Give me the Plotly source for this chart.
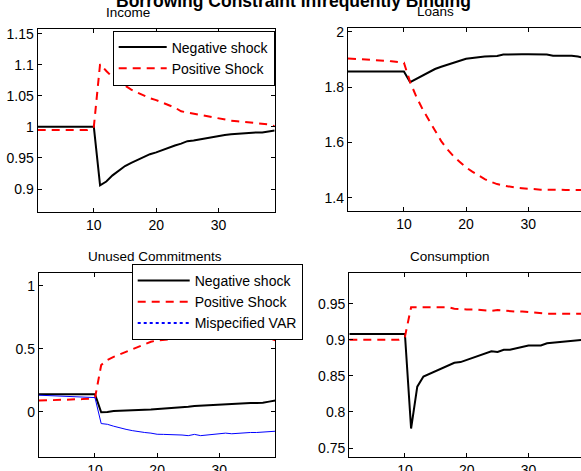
import plotly.graph_objects as go

t = list(range(1, 40))

income_neg = [1.0]*10 + [0.906, 0.912, 0.922, 0.930, 0.937, 0.942, 0.947, 0.952, 0.956, 0.959,
                        0.963, 0.966, 0.970, 0.973, 0.977, 0.978, 0.980, 0.981, 0.983, 0.985,
                        0.987, 0.988, 0.989, 0.990, 0.991, 0.991, 0.991, 0.993, 0.994]
income_pos = [0.995]*9 + [1.0, 1.101, 1.09, 1.08, 1.073, 1.066, 1.06, 1.055, 1.05, 1.046, 1.043,
                          1.039, 1.035, 1.031, 1.025, 1.023, 1.021, 1.019, 1.017, 1.015, 1.013,
                          1.012, 1.010, 1.009, 1.008, 1.008, 1.007, 1.006, 1.004, 1.001]

loans_neg = [1.856]*10 + [1.818, 1.83, 1.843, 1.855, 1.865, 1.873, 1.88, 1.888, 1.893, 1.902,
                         1.905, 1.908, 1.91, 1.911, 1.912, 1.917, 1.918, 1.918, 1.918, 1.918,
                         1.918, 1.918, 1.917, 1.913, 1.913, 1.913, 1.913, 1.91, 1.905]
loans_pos = [1.903, 1.902, 1.901, 1.900, 1.898, 1.897, 1.895, 1.893, 1.891, 1.888,
             1.818, 1.765, 1.72, 1.68, 1.64, 1.605, 1.575, 1.55, 1.53, 1.51,
             1.495, 1.48, 1.468, 1.458, 1.45, 1.445, 1.44, 1.437, 1.435, 1.433,
             1.431, 1.43, 1.43, 1.429, 1.429, 1.429, 1.429, 1.429, 1.429]

unused_neg = [0.139]*10 + [-0.005, -0.003, 0.005, 0.008, 0.01, 0.01, 0.012, 0.015, 0.017, 0.02,
                          0.025, 0.028, 0.032, 0.036, 0.04, 0.045, 0.048, 0.052, 0.056, 0.06,
                          0.062, 0.064, 0.066, 0.068, 0.07, 0.07, 0.072, 0.08, 0.088]
unused_pos = [0.088, 0.089, 0.09, 0.091, 0.093, 0.095, 0.098, 0.1, 0.103, 0.107,
              0.37, 0.41, 0.435, 0.455, 0.475, 0.495, 0.515, 0.535, 0.555, 0.565,
              0.57, 0.575, 0.58, 0.585, 0.588, 0.59, 0.595, 0.597, 0.6, 0.6,
              0.6, 0.598, 0.598, 0.598, 0.597, 0.597, 0.595, 0.585, 0.567]
unused_var = [0.131, 0.129, 0.127, 0.125, 0.123, 0.121, 0.119, 0.117, 0.115, 0.112,
              -0.094, -0.1, -0.115, -0.13, -0.14, -0.15, -0.16, -0.165, -0.17, -0.179,
              -0.18, -0.18, -0.182, -0.185, -0.19, -0.18, -0.19, -0.185, -0.18, -0.175,
              -0.17, -0.175, -0.17, -0.17, -0.165, -0.165, -0.16, -0.155, -0.155]

cons_neg = [0.908]*10 + [0.777, 0.835, 0.849, 0.853, 0.857, 0.86, 0.865, 0.868, 0.869, 0.872,
                        0.875, 0.878, 0.881, 0.884, 0.883, 0.886, 0.886, 0.888, 0.889, 0.892,
                        0.892, 0.892, 0.895, 0.896, 0.897, 0.897, 0.898, 0.899, 0.900]
cons_pos = [0.9]*9 + [0.904, 0.945, 0.945, 0.945, 0.945, 0.945, 0.945, 0.945, 0.943, 0.942, 0.942,
                      0.942, 0.941, 0.940, 0.940, 0.941, 0.940, 0.940, 0.939, 0.939, 0.938,
                      0.937, 0.936, 0.936, 0.936, 0.936, 0.936, 0.936, 0.936, 0.936]

panel_titles = ["Income", "Loans", "Unused Commitments", "Consumption"]
legend_names = ["Negative shock", "Positive Shock", "Mispecified VAR"]
main_title = "Borrowing Constraint Infrequently Binding"

W, H = 581, 471
def px(x): return x / W
def py(y): return 1 - y / H

fig = go.Figure()
FONT = "Liberation Sans, Arial, sans-serif"
DASH = "8px,6px"

def add_pair(neg, pos, xa, ya, legend=None):
    show = legend is not None
    fig.add_trace(go.Scatter(x=t, y=neg, mode="lines", name=legend_names[0],
                             line=dict(color="black", width=2), xaxis=xa, yaxis=ya,
                             showlegend=show, legend=legend or "legend"))
    fig.add_trace(go.Scatter(x=t, y=pos, mode="lines", name=legend_names[1],
                             line=dict(color="red", width=2, dash=DASH), xaxis=xa, yaxis=ya,
                             showlegend=show, legend=legend or "legend"))

add_pair(income_neg, income_pos, "x", "y", "legend")
add_pair(loans_neg, loans_pos, "x2", "y2")
add_pair(unused_neg, unused_pos, "x3", "y3", "legend2")
fig.add_trace(go.Scatter(x=t, y=unused_var, mode="lines", name=legend_names[2],
                         line=dict(color="blue", width=1), xaxis="x3", yaxis="y3",
                         showlegend=False))
fig.add_trace(go.Scatter(x=[None], y=[None], mode="lines", name=legend_names[2],
                         line=dict(color="blue", width=2, dash="dot"), xaxis="x3", yaxis="y3",
                         showlegend=True, legend="legend2"))
add_pair(cons_neg, cons_pos, "x4", "y4")

axis_common = dict(showline=True, linecolor="black", linewidth=1.3, ticks="inside",
                   ticklen=4, tickcolor="black", tickwidth=1, showgrid=False, zeroline=False,
                   tickfont=dict(family=FONT, size=14, color="black"), automargin=False)

layouts = {
    "": dict(xd=[px(37.7), px(274.7)], yd=[py(212), py(29.3)], xr=[1, 39], yr=[0.863, 1.157],
             yt=[0.9, 0.95, 1, 1.05, 1.1, 1.15], yl=["0.9", "0.95", "1", "1.05", "1.1", "1.15"], right=True),
    "2": dict(xd=[px(348), 1.0], yd=[py(210.7), py(28)], xr=[1, 38.5], yr=[1.354, 2.013],
              yt=[1.4, 1.6, 1.8, 2], yl=["1.4", "1.6", "1.8", "2"], right=False),
    "3": dict(xd=[px(39), px(275.3)], yd=[py(456.7), py(273.3)], xr=[1, 39], yr=[-0.357, 1.098],
              yt=[0, 0.5, 1], yl=["0", "0.5", "1"], right=True),
    "4": dict(xd=[px(349.3), 1.0], yd=[py(456.7), py(273.3)], xr=[1, 38.5], yr=[0.738, 0.992],
              yt=[0.75, 0.8, 0.85, 0.9, 0.95], yl=["0.75", "0.8", "0.85", "0.9", "0.95"], right=False),
}

lay = {}
for k, d in layouts.items():
    lay["xaxis" + k] = dict(axis_common, domain=d["xd"], range=d["xr"], tickvals=[10, 20, 30],
                           ticktext=["10", "20", "30"], mirror="ticks", anchor="y" + k)
    lay["yaxis" + k] = dict(axis_common, domain=d["yd"], range=d["yr"], tickvals=d["yt"],
                           ticktext=d["yl"], mirror="ticks" if d["right"] else False, anchor="x" + k)

fig.update_layout(**lay)

title_pos = [(128, 13), (435, 12), (155, 256), (450, 256)]
ann = []
for txt, (x, y) in zip(panel_titles, title_pos):
    ann.append(dict(text=txt, x=px(x), y=py(y), xref="paper", yref="paper", showarrow=False,
                    xanchor="center", yanchor="middle", font=dict(family=FONT, size=13.5, color="black")))
ann.append(dict(text="<b>" + main_title + "</b>", x=px(293), y=py(1), xref="paper", yref="paper",
                showarrow=False, xanchor="center", yanchor="middle",
                font=dict(family=FONT, size=17.5, color="black")))

fig.update_layout(
    width=W, height=H, margin=dict(l=0, r=0, t=0, b=0),
    paper_bgcolor="white", plot_bgcolor="white",
    annotations=ann,
    legend=dict(x=px(274.7), y=py(30.5), xanchor="right", yanchor="top",
                bgcolor="white", bordercolor="black", borderwidth=1, itemwidth=48,
                font=dict(family=FONT, size=14, color="black"), tracegroupgap=0),
    legend2=dict(x=px(131.7), y=py(264), xanchor="left", yanchor="top",
                 bgcolor="white", bordercolor="black", borderwidth=1, itemwidth=52,
                 font=dict(family=FONT, size=14, color="black"), tracegroupgap=0),
)

fig.write_html("out.html", config={"displayModeBar": False},
               post_script="document.body.style.margin='0';document.body.style.overflow='hidden';")
